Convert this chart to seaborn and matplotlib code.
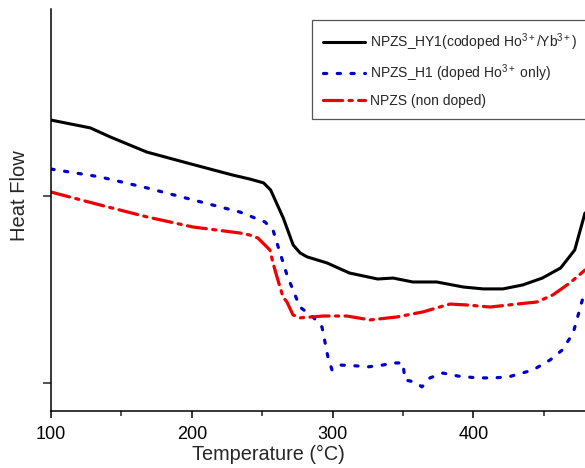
import matplotlib
matplotlib.use("Agg")
import matplotlib.pyplot as plt
import seaborn as sns

# DSC traces (temperature in °C, heat flow in arbitrary units)
temp_hy1 = [100, 128, 142, 168, 197, 229, 241, 251, 256, 265, 272, 277, 282, 296, 312,
            332, 343, 357, 374, 393, 407, 421, 435, 449, 462, 472, 479.3]
flow_hy1 = [1.406, 1.364, 1.316, 1.235, 1.176, 1.112, 1.091, 1.070, 1.032, 0.882, 0.738,
            0.695, 0.674, 0.642, 0.588, 0.556, 0.561, 0.540, 0.540, 0.513, 0.503, 0.503,
            0.524, 0.561, 0.615, 0.711, 0.909]

temp_h1 = [100, 134.8, 168.2, 200.9, 234.2, 244.9, 252.0, 257.7, 260.5, 267.6, 276.8,
           286.1, 292.5, 296.7, 299.6, 305.3, 317.3, 325.1, 335.8, 342.9, 350.0, 351.4,
           358.5, 363.5, 369.2, 378.4, 389.1, 402.6, 414.0, 424.7, 434.7, 442.5, 454.5,
           463.1, 470.9, 478.0]
flow_h1 = [1.144, 1.102, 1.043, 0.979, 0.914, 0.882, 0.861, 0.818, 0.749, 0.578, 0.406,
           0.353, 0.299, 0.139, 0.070, 0.096, 0.091, 0.086, 0.096, 0.107, 0.107, 0.016,
           0.005, -0.021, 0.027, 0.053, 0.037, 0.027, 0.027, 0.032, 0.053, 0.070, 0.123,
           0.176, 0.267, 0.460]

temp_nd = [100, 134.8, 168.2, 200.9, 234.2, 241.3, 247.0, 249.8, 255.5, 257.7, 260.5,
           264.8, 267.6, 271.9, 276.8, 293.2, 310.2, 326.6, 345.7, 364.2, 383.4, 395.5,
           411.8, 431.0, 445.2, 456.5, 468.6, 479.3]
flow_nd = [1.021, 0.952, 0.888, 0.834, 0.802, 0.791, 0.775, 0.754, 0.711, 0.642, 0.567,
           0.460, 0.433, 0.364, 0.348, 0.358, 0.358, 0.337, 0.353, 0.380, 0.422, 0.417,
           0.406, 0.422, 0.433, 0.471, 0.535, 0.604]

labels = ['NPZS_HY1(codoped Ho$^{3+}$/Yb$^{3+}$)',
          'NPZS_H1 (doped Ho$^{3+}$ only)',
          'NPZS (non doped)']

sns.set_style("ticks")
plt.rcParams['font.family'] = ['Liberation Sans', 'DejaVu Sans']
plt.rcParams['mathtext.fontset'] = 'custom'
plt.rcParams['mathtext.rm'] = 'Liberation Sans'
plt.rcParams['mathtext.it'] = 'Liberation Sans:italic'
plt.rcParams['mathtext.bf'] = 'Liberation Sans:bold'
narrow = ['Liberation Sans Narrow', 'Liberation Sans', 'DejaVu Sans']

fig = plt.figure(figsize=(5.85, 4.68), dpi=100)
ax = fig.add_axes([51 / 585, 1 - 411 / 468, 1 - 51 / 585, (411 - 9) / 468])

sns.lineplot(x=temp_hy1, y=flow_hy1, ax=ax, sort=False, estimator=None,
             color='black', linewidth=2.2, label=labels[0])
sns.lineplot(x=temp_h1, y=flow_h1, ax=ax, sort=False, estimator=None,
             color='#0000cc', linewidth=2.3, linestyle=(0, (1, 3.3)), label=labels[1])
sns.lineplot(x=temp_nd, y=flow_nd, ax=ax, sort=False, estimator=None,
             color='#ee0000', linewidth=2.3, linestyle=(0, (6, 2, 1, 2)), label=labels[2])
for ln in ax.get_lines():
    ln.set_dash_capstyle('round')

ax.set_xlim(100, 479.3)
ax.set_ylim(-0.15, 2.0)
ax.set_xticks([100, 200, 300, 400])
ax.set_xticks([150, 250, 350, 450], minor=True)
ax.set_yticks([0, 1])
ax.set_yticklabels([])
ax.tick_params(axis='x', which='major', direction='out', length=5, width=1.1,
               colors='black', pad=6)
ax.tick_params(axis='x', which='minor', direction='out', length=3.5, width=1.1)
ax.tick_params(axis='y', which='major', direction='out', length=6, width=1.1)
for lab in ax.get_xticklabels():
    lab.set_family(narrow)
    lab.set_fontsize(13)

for side in ['top', 'right']:
    ax.spines[side].set_visible(False)
for side in ['left', 'bottom']:
    ax.spines[side].set_linewidth(1.1)
    ax.spines[side].set_color('black')

ax.set_xlabel('Temperature (°C)', fontsize=14.3, family=narrow)
ax.xaxis.set_label_coords((268 - 51) / 534, -0.085)
ax.set_ylabel('Heat Flow', fontsize=14.5)
ax.yaxis.set_label_coords(-0.041, 0.535)

leg = ax.legend(loc='upper left', bbox_to_anchor=(312 / 585, 1 - 20 / 468),
                bbox_transform=fig.transFigure, fontsize=10, frameon=True,
                fancybox=False, framealpha=1, edgecolor='#555555',
                handlelength=3.0, handletextpad=0.4, borderpad=0.8,
                labelspacing=0.7, borderaxespad=0)
leg.get_frame().set_linewidth(0.9)

fig.savefig('out.png', dpi=100)
